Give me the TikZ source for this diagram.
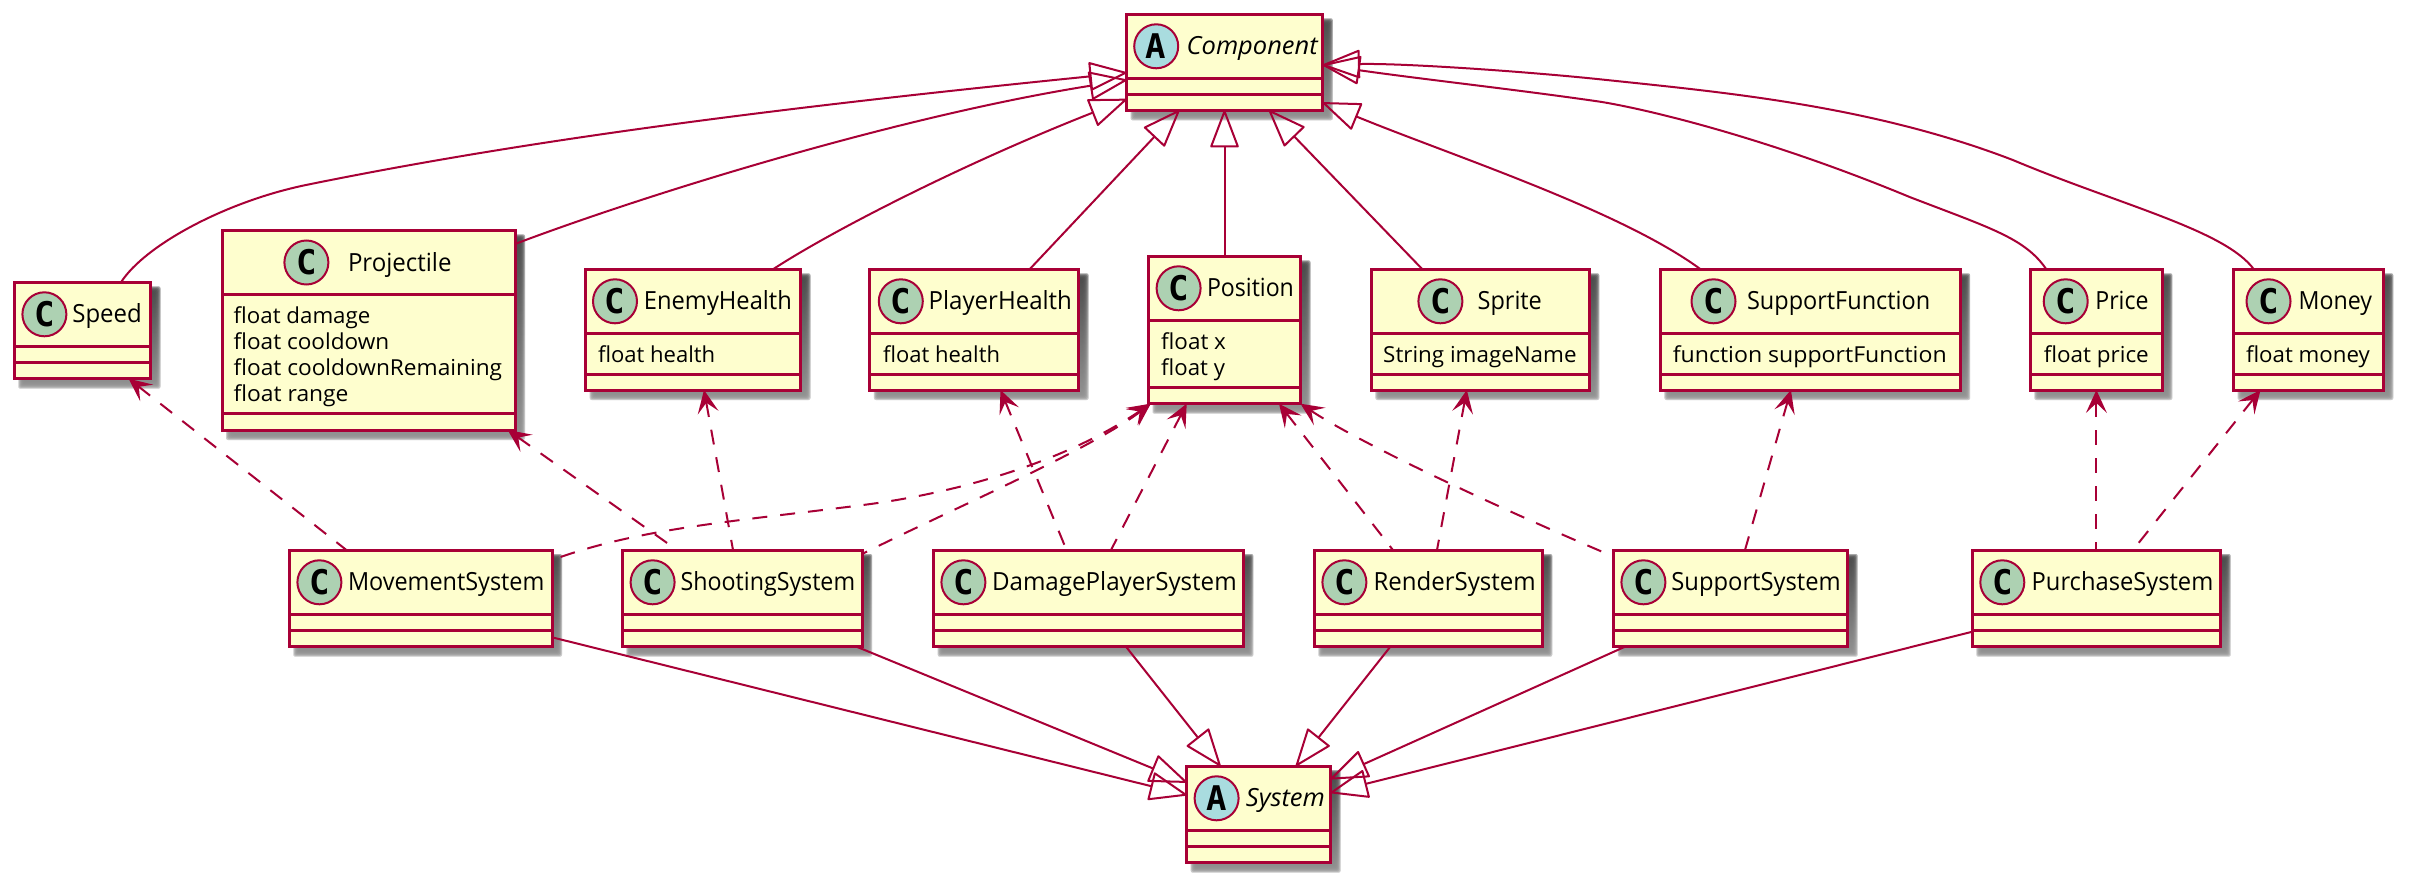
\documentclass[tikz,border=0pt]{standalone}
\usepackage{fontspec}
\usepackage{graphicx}
\setmainfont{Open Sans}
\newfontfamily\glyphfont{DejaVu Sans Mono}
\usetikzlibrary{arrows.meta,calc}
\definecolor{crim}{HTML}{A80036}
\definecolor{boxfill}{HTML}{FEFECE}
\definecolor{cgreen}{HTML}{ADD1B2}
\definecolor{ablue}{HTML}{A9DCDF}
\definecolor{shade}{HTML}{A0A0A0}
\newcommand{\fitw}[2]{\setbox0\hbox{#2}\pgfmathsetmacro\sx{#1/\the\wd0}\scalebox{\sx}[1]{\box0}}
\tikzset{
  classbox/.style={draw=crim,fill=boxfill,line width=3pt,inner sep=0pt,outer sep=0pt},
  comp/.style={draw=crim,line width=3pt},
  spot/.style={circle,draw=crim,line width=2pt,inner sep=0pt,outer sep=0pt,minimum size=44pt,text=black,
    font=\glyphfont\bfseries\fontsize{34}{34}\selectfont},
  nametext/.style={anchor=base west,inner sep=0pt,outer sep=0pt,text=black,font=\fontsize{25}{25}\selectfont},
  absttext/.style={anchor=base west,inner sep=0pt,outer sep=0pt,text=black,font=\itshape\fontsize{25}{25}\selectfont},
  attrtext/.style={anchor=base west,inner sep=0pt,outer sep=0pt,text=black,font=\fontsize{22}{22}\selectfont},
  gen/.style={draw=crim,line width=2pt,-{Triangle[open,length=39pt,width=29pt,round=false]}},
  dep/.style={draw=crim,line width=2pt,dash pattern=on 15pt off 13pt,
    {Stealth[length=23pt,width=21pt,inset=10pt,fill=crim,line width=1.5pt,sep=0pt]}-},
}
% name, x0, y0, x1, y1, first line, second line
\newcommand{\cbox}[7]{%
  \foreach \k in {-3,-2,-1,0,1,2,3}{%
    \fill[shade,opacity=0.28,rounded corners=2pt]
      ({#2+7-\k},{#3+7-\k}) rectangle ({#4+7+\k},{#5+7+\k});}%
  \node[classbox,minimum width={(#4-#2)*1pt},minimum height={(#5-#3)*1pt}] (#1) at ({(#2+#4)/2},{(#3+#5)/2}) {};
  \draw[comp] (#1.west |- 0,#6) -- (#1.east |- 0,#6);
  \draw[comp] (#1.west |- 0,#7) -- (#1.east |- 0,#7);
}
% name, circle x, circle y, text x, text width, text
\newcommand{\cname}[6]{%
  \node[spot,fill=cgreen] (#1-c) at (#2,#3) {C};
  \node[nametext] (#1-t) at (#4,{#3+8.5}) {\fitw{#5}{#6}};
}
\newcommand{\aname}[6]{%
  \node[spot,fill=ablue] (#1-c) at (#2,#3) {A};
  \node[absttext] (#1-t) at (#4,{#3+8.5}) {\fitw{#5}{#6}};
}
% name, x, baseline, width, text
\newcommand{\attr}[5]{\node[attrtext] (#1) at (#2,#3) {\fitw{#4}{#5}};}
\begin{document}
\begin{tikzpicture}[x=1pt,y=-1pt]
\useasboundingbox (0,0) rectangle (2409,888);
\fill[white] (0,0) rectangle (2409,888);

% top row
\cbox{Component}{1126.6}{14.3}{1322.8}{110.3}{78.3}{94.7}
\aname{Component}{1156.2}{46.3}{1186.7}{131}{Component}
\cbox{Speed}{14.3}{282.3}{150.5}{378.7}{346.7}{362.3}
\cname{Speed}{44.4}{314.3}{72.4}{69.4}{Speed}
\cbox{Projectile}{222}{230.3}{515}{430}{294.7}{413.3}
\cname{Projectile}{306.4}{262.5}{348}{103.5}{Projectile}
\attr{Projectile-a1}{233.7}{323.4}{136.7}{float damage}
\attr{Projectile-a2}{233.7}{349.4}{155.6}{float cooldown}
\attr{Projectile-a3}{233.7}{375.4}{268.4}{float cooldownRemaining}
\attr{Projectile-a4}{233.7}{401.4}{114.8}{float range}
\cbox{EnemyHealth}{585.7}{269.3}{800.5}{390}{333.3}{374.7}
\cname{EnemyHealth}{615}{301.3}{643.9}{148}{EnemyHealth}
\attr{EnemyHealth-a1}{598}{362}{117.3}{float health}
\cbox{PlayerHealth}{869.9}{269.3}{1078.6}{390}{333.3}{374.7}
\cname{PlayerHealth}{900.8}{301.3}{928.6}{143.4}{PlayerHealth}
\attr{PlayerHealth-a1}{883.2}{362}{116.8}{float health}
\cbox{Position}{1148.5}{256.3}{1300.5}{403.7}{320.3}{387.3}
\cname{Position}{1178.6}{288.3}{1207}{86.9}{Position}
\attr{Position-a1}{1161.2}{349}{64.8}{float x}
\attr{Position-a2}{1161.2}{375}{63.8}{float y}
\cbox{Sprite}{1371.4}{269.3}{1589.3}{390}{333.3}{374.7}
\cname{Sprite}{1440.4}{301.3}{1477.6}{64.3}{Sprite}
\attr{Sprite-a1}{1383.2}{362}{193.4}{String imageName}
\cbox{SupportFunction}{1660.4}{269.3}{1960.2}{390}{333.3}{374.7}
\cname{SupportFunction}{1713.5}{301.3}{1747}{183.2}{SupportFunction}
\attr{SupportFunction-a1}{1672.8}{362}{273.9}{function supportFunction}
\cbox{Price}{2030.3}{269.3}{2162.4}{390}{333.3}{374.7}
\cname{Price}{2065.7}{301.3}{2095.4}{53.1}{Price}
\attr{Price-a1}{2043.8}{362}{105}{float price}
\cbox{Money}{2233.6}{269.3}{2383.3}{390}{333.3}{374.7}
\cname{Money}{2268.5}{301.3}{2298.6}{73.4}{Money}
\attr{Money-a1}{2246}{362}{123.8}{float money}

% bottom rows
\cbox{MovementSystem}{289.3}{550}{552}{646.7}{614.3}{630.3}
\cname{MovementSystem}{319.4}{582.3}{348}{196.4}{MovementSystem}
\cbox{ShootingSystem}{622.4}{550}{862.2}{646.7}{614.3}{630.3}
\cname{ShootingSystem}{652.6}{582.3}{680.6}{174.5}{ShootingSystem}
\cbox{DamagePlayerSystem}{933.7}{550}{1243.4}{646.7}{614.3}{630.3}
\cname{DamagePlayerSystem}{963.4}{582.3}{992}{244.7}{DamagePlayerSystem}
\cbox{RenderSystem}{1314.3}{550}{1542.3}{646.7}{614.3}{630.3}
\cname{RenderSystem}{1344.4}{582.3}{1373.5}{162.2}{RenderSystem}
\cbox{SupportSystem}{1613.8}{550}{1847.7}{646.7}{614.3}{630.3}
\cname{SupportSystem}{1643.4}{582.3}{1671.4}{169.3}{SupportSystem}
\cbox{PurchaseSystem}{1972.3}{550}{2220.7}{646.7}{614.3}{630.3}
\cname{PurchaseSystem}{2002.3}{582.3}{2031.7}{181.6}{PurchaseSystem}
\cbox{System}{1186.7}{766}{1330.6}{862.7}{830}{846}
\aname{System}{1216.6}{798.3}{1245.9}{79}{System}

% generalisations to Component
\draw[gen] ([shift={(106.7,0)}]Speed.north west) .. controls (145,245) and (226,201.5) .. (306,185)
   .. controls (536,138) and (796,106) .. ([shift={(0,58.4)}]Component.north west);
\draw[gen] ([shift={(0,13.7)}]Projectile.north east) .. controls (650,193) and (900,116) .. ([shift={(0,65.7)}]Component.north west);
\draw[gen] ([shift={(187.3,0)}]EnemyHealth.north west) .. controls (830,232) and (960,165) .. ([shift={(0,85)}]Component.north west);
\draw[gen] ([shift={(159.7,0)}]PlayerHealth.north west) -- ([shift={(52.7,0)}]Component.south west);
\draw[gen] (Position.north) -- (Position.north |- Component.south);
\draw[gen] ([shift={(51,0)}]Sprite.north west) -- ([shift={(142.4,0)}]Component.south west);
\draw[gen] ([shift={(40.2,0)}]SupportFunction.north west) .. controls (1620,210) and (1450,155) .. ([shift={(0,88.4)}]Component.north east);
\draw[gen] ([shift={(16,0)}]Price.north west) .. controls (2025,238) and (1990,228) .. (1909.6,197)
   .. controls (1760,135) and (1640,108) .. (1600,101.7)
   .. controls (1520,90) and (1420,79) .. ([shift={(0,50.7)}]Component.north east);
\draw[gen] ([shift={(20.2,0)}]Money.north west) .. controls (2225,230) and (2120,205) .. (2012.8,160)
   .. controls (1870,105) and (1720,92) .. (1600,79.3)
   .. controls (1520,71) and (1400,63) .. ([shift={(0,50.7)}]Component.north east);

% generalisations to System
\draw[gen] ([shift={(0,-9.4)}]MovementSystem.south east) -- ([shift={(0,29)}]System.north west);
\draw[gen] ([shift={(234.2,0)}]ShootingSystem.south west) -- ([shift={(0,16.3)}]System.north west);
\draw[gen] ([shift={(192.3,0)}]DamagePlayerSystem.south west) -- ([shift={(33.7,0)}]System.north west);
\draw[gen] ([shift={(76,0)}]RenderSystem.south west) -- ([shift={(109.3,0)}]System.north west);
\draw[gen] ([shift={(11.2,0)}]SupportSystem.south west) -- ([shift={(0,13)}]System.north east);
\draw[gen] ([shift={(0,-15)}]PurchaseSystem.south west) -- ([shift={(0,26.7)}]System.north east);

% dependencies
\draw[dep] ([shift={(114.3,0)}]Speed.south west) -- ([shift={(57.1,0)}]MovementSystem.north west);
\draw[dep] ([shift={(-7.3,0)}]Projectile.south east) -- ([shift={(54.6,0)}]ShootingSystem.north west);
\draw[dep] ([shift={(118.3,0)}]EnemyHealth.south west) -- ([shift={(110.6,0)}]ShootingSystem.north west);
\draw[dep] ([shift={(130.6,0)}]PlayerHealth.south west) -- ([shift={(132.8,0)}]DamagePlayerSystem.north west);
\draw[dep] ([shift={(2.2,0)}]Position.south west) .. controls (1060,465) and (950,494) .. (863,505)
   .. controls (730,522) and (640,528) .. ([shift={(0,10)}]MovementSystem.north east);
\draw[dep] ([shift={(2.2,0)}]Position.south west) .. controls (1090,450) and (950,510) .. ([shift={(0,4)}]ShootingSystem.north east);
\draw[dep] ([shift={(38.2,0)}]Position.south west) -- ([shift={(177.3,0)}]DamagePlayerSystem.north west);
\draw[dep] ([shift={(-21.5,0)}]Position.south east) -- ([shift={(78.6,0)}]RenderSystem.north west);
\draw[dep] (Position.south east) .. controls (1355,440) and (1480,500) .. ([shift={(0,6.7)}]SupportSystem.north west);
\draw[dep] ([shift={(95.4,0)}]Sprite.south west) -- ([shift={(122.7,0)}]RenderSystem.north west);
\draw[dep] ([shift={(130.5,0)}]SupportFunction.south west) -- ([shift={(131.2,0)}]SupportSystem.north west);
\draw[dep] ([shift={(66.1,0)}]Price.south west) -- ([shift={(124.1,0)}]PurchaseSystem.north west);
\draw[dep] ([shift={(26.9,0)}]Money.south west) -- ([shift={(160.7,0)}]PurchaseSystem.north west);
\end{tikzpicture}
\end{document}
